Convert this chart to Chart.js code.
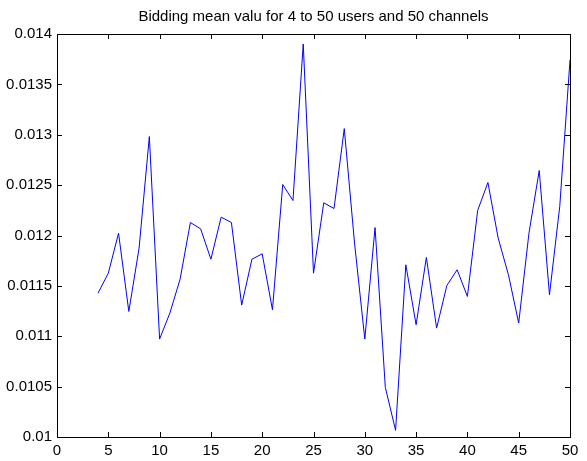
<!DOCTYPE html>
<html>
<head>
<meta charset="utf-8">
<script src="https://cdn.jsdelivr.net/npm/chart.js@4"></script>
<style>
  html, body { margin: 0; padding: 0; background: #fff; }
  #wrap { width: 587px; height: 461px; }
</style>
</head>
<body>
<div id="wrap"><canvas id="bidChart" width="587" height="461"></canvas></div>
<script>
// number of users (x) and the bidding mean value (y)
const users = [4, 5, 6, 7, 8, 9, 10, 11, 12, 13, 14, 15, 16, 17, 18, 19, 20, 21, 22, 23, 24, 25, 26,
  27, 28, 29, 30, 31, 32, 33, 34, 35, 36, 37, 38, 39, 40, 41, 42, 43, 44, 45, 46, 47, 48, 49, 50];
const meanValues = [0.011428, 0.011626, 0.012023, 0.011246, 0.011874, 0.012982, 0.010972, 0.01123,
  0.011567, 0.012129, 0.012066, 0.011765, 0.012182, 0.012129, 0.011309, 0.011765, 0.011818, 0.011263,
  0.012506, 0.012347, 0.013901, 0.011626, 0.012324, 0.012268, 0.013061, 0.011925, 0.010972, 0.012079,
  0.010493, 0.010066, 0.011709, 0.011114, 0.011782, 0.011081, 0.011504, 0.01166, 0.011395, 0.012248,
  0.012526, 0.011974, 0.01161, 0.011131, 0.012023, 0.012645, 0.011412, 0.012288, 0.013742];
const titleText = "Bidding mean valu for 4 to 50 users and 50 channels";

const fontFamily = "'Liberation Sans', Arial, sans-serif";

// MATLAB style box with inward tick marks on all four sides
const boxTicks = {
  id: "boxTicks",
  afterDraw(chart) {
    const { ctx, chartArea: a, scales } = chart;
    const len = 5;
    ctx.save();
    ctx.strokeStyle = "#000";
    ctx.lineWidth = 1;
    ctx.beginPath();
    scales.x.ticks.forEach((t) => {
      const px = Math.round(scales.x.getPixelForValue(t.value)) + 0.5;
      ctx.moveTo(px, a.bottom);
      ctx.lineTo(px, a.bottom - len);
      ctx.moveTo(px, a.top);
      ctx.lineTo(px, a.top + len);
    });
    scales.y.ticks.forEach((t) => {
      const py = Math.round(scales.y.getPixelForValue(t.value)) + 0.5;
      ctx.moveTo(a.left, py);
      ctx.lineTo(a.left + len, py);
      ctx.moveTo(a.right, py);
      ctx.lineTo(a.right - len, py);
    });
    ctx.stroke();
    ctx.strokeRect(Math.round(a.left) + 0.5, Math.round(a.top) + 0.5,
      Math.round(a.right - a.left), Math.round(a.bottom - a.top));
    ctx.restore();
  },
};

const ctx = document.getElementById("bidChart").getContext("2d");
new Chart(ctx, {
  type: "line",
  data: {
    labels: users,
    datasets: [
      {
        data: users.map((u, i) => ({ x: u, y: meanValues[i] })),
        borderColor: "#0000ff",
        borderWidth: 1,
        pointRadius: 0,
        tension: 0,
        fill: false,
      },
    ],
  },
  options: {
    responsive: false,
    animation: false,
    layout: { padding: { left: 0, right: 17, top: 0, bottom: 0 } },
    plugins: {
      legend: { display: false },
      tooltip: { enabled: false },
      title: {
        display: true,
        fullSize: false,
        text: titleText,
        color: "#000",
        font: { family: fontFamily, size: 15, weight: "normal" },
        padding: { top: 8, bottom: 8 },
      },
    },
    scales: {
      x: {
        type: "linear",
        min: 0,
        max: 50,
        grid: { display: false, drawTicks: false },
        border: { display: false },
        ticks: {
          stepSize: 5,
          padding: 5,
          color: "#000",
          maxRotation: 0,
          font: { family: fontFamily, size: 15 },
        },
        afterFit: (scale) => { scale.height = 24; },
      },
      y: {
        type: "linear",
        min: 0.01,
        max: 0.014,
        grid: { display: false, drawTicks: false },
        border: { display: false },
        ticks: {
          stepSize: 0.0005,
          padding: 5,
          color: "#000",
          font: { family: fontFamily, size: 15 },
          callback: (value) => String(+value.toFixed(4)),
        },
        afterFit: (scale) => { scale.width = 57; },
      },
    },
  },
  plugins: [boxTicks],
});
</script>
</body>
</html>
